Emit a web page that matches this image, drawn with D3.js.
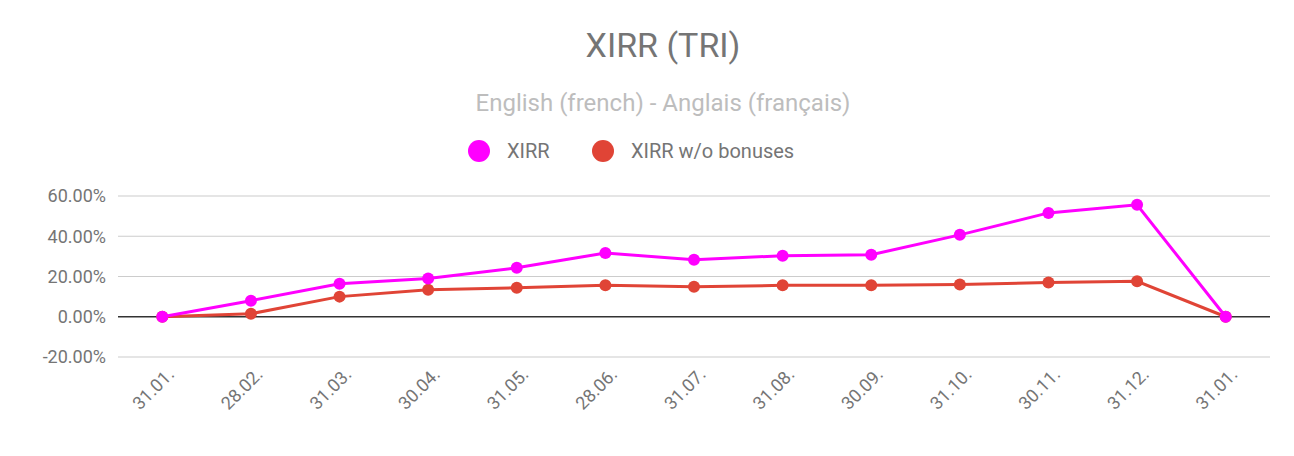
<!DOCTYPE html>
<html>
<head>
<meta charset="utf-8">
<script src="https://cdn.jsdelivr.net/npm/d3@7"></script>
<style>
body { margin: 0; background: #fff; }
text { font-family: Roboto, sans-serif; }
</style>
</head>
<body>
<div id="chart"></div>
<script>
// chart data
const dates = ["31.01.", "28.02.", "31.03.", "30.04.", "31.05.", "28.06.", "31.07.", "31.08.", "30.09.", "31.10.", "30.11.", "31.12.", "31.01.b"];
const xirr = [0, 8.0, 16.4, 19.0, 24.3, 31.7, 28.3, 30.3, 30.8, 40.7, 51.6, 55.6, 0];
const xirrNoBonus = [0, 1.5, 10.0, 13.4, 14.4, 15.6, 14.9, 15.6, 15.6, 16.0, 17.0, 17.6, 0];
const yTicks = [-20, 0, 20, 40, 60];

const width = 1294, height = 456;
const plotLeft = 118, plotRight = 1270, plotTop = 196, plotBottom = 357;

const svg = d3.select("#chart").append("svg")
    .attr("width", width)
    .attr("height", height);

const x = d3.scalePoint()
    .domain(dates)
    .range([plotLeft, plotRight])
    .padding(0.5);

const y = d3.scaleLinear()
    .domain([-20, 60])
    .range([plotBottom, plotTop]);

// title + subtitle
svg.append("text")
    .attr("x", width / 2 + 16).attr("y", 57)
    .attr("text-anchor", "middle")
    .attr("font-size", 34).attr("fill", "#757575")
    .text("XIRR (TRI)");

svg.append("text")
    .attr("x", width / 2 + 16).attr("y", 111)
    .attr("text-anchor", "middle")
    .attr("font-size", 24).attr("fill", "#bdbdbd")
    .text("English (french) - Anglais (français)");

// legend
const legend = [
    {name: "XIRR", color: "#ff00ff", cx: 479},
    {name: "XIRR w/o bonuses", color: "#e04436", cx: 603}
];
legend.forEach(l => {
    svg.append("circle").attr("cx", l.cx).attr("cy", 151).attr("r", 11).attr("fill", l.color);
    svg.append("text").attr("x", l.cx + 28).attr("y", 158)
        .attr("font-size", 20).attr("fill", "#757575").text(l.name);
});

// gridlines
svg.append("g").selectAll("line")
    .data(yTicks)
    .enter().append("line")
    .attr("x1", plotLeft).attr("x2", plotRight)
    .attr("y1", d => y(d)).attr("y2", d => y(d))
    .attr("stroke", d => d === 0 ? "#333" : "#ccc")
    .attr("stroke-width", d => d === 0 ? 1.5 : 1.2);

// y axis labels
const yAxis = svg.append("g")
    .attr("transform", `translate(${plotLeft},0)`)
    .call(d3.axisLeft(y).tickValues(yTicks).tickSize(0).tickPadding(12).tickFormat(d => d.toFixed(2) + "%"));
yAxis.select(".domain").remove();
yAxis.selectAll("text").attr("font-size", 18).attr("fill", "#757575").attr("font-family", "Roboto, sans-serif");

// x axis labels
const xAxis = svg.append("g")
    .attr("transform", `translate(0,${plotBottom})`)
    .call(d3.axisBottom(x).tickSize(0).tickFormat(d => d.replace("b", "")));
xAxis.select(".domain").remove();
xAxis.selectAll("text")
    .attr("font-size", 18).attr("fill", "#757575").attr("font-family", "Roboto, sans-serif")
    .attr("y", 0).attr("dy", "0.35em")
    .attr("transform", "translate(8,14) rotate(-45)")
    .style("text-anchor", "end");

// series
const series = [
    {values: xirrNoBonus, color: "#e04436"},
    {values: xirr, color: "#ff00ff"}
];
const line = d3.line().x((d, i) => x(dates[i])).y(d => y(d));
series.forEach(s => {
    svg.append("path")
        .datum(s.values)
        .attr("fill", "none")
        .attr("stroke", s.color)
        .attr("stroke-width", 3)
        .attr("d", line);
    svg.append("g").selectAll("circle")
        .data(s.values)
        .enter().append("circle")
        .attr("cx", (d, i) => x(dates[i]))
        .attr("cy", d => y(d))
        .attr("r", 6)
        .attr("fill", s.color);
});
</script>
</body>
</html>
